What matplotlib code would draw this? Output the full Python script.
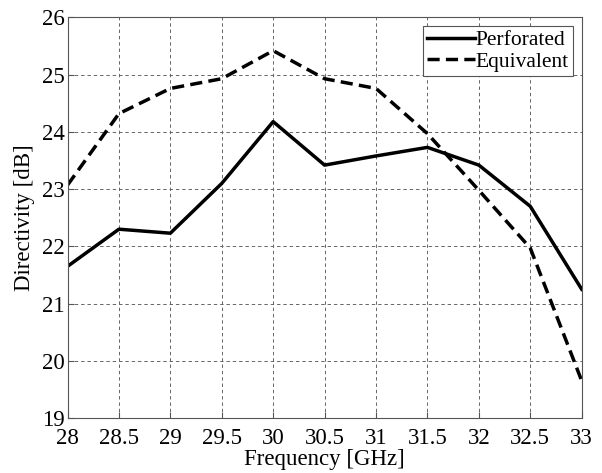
import numpy as np
import matplotlib.pyplot as plt

plt.rcParams['font.family'] = 'Liberation Serif'

freq = [28, 28.5, 29, 29.5, 30, 30.5, 31, 31.5, 32, 32.5, 33]
perforated = [21.65, 22.30, 22.23, 23.10, 24.18, 23.42, 23.58, 23.73, 23.42, 22.70, 21.25]
equivalent = [23.07, 24.32, 24.76, 24.93, 25.42, 24.93, 24.76, 23.97, 22.98, 21.97, 19.65]

fig = plt.figure(figsize=(6.02, 4.73), dpi=100)
ax = fig.add_axes([67.5/602, 1 - 418/473, (581.7-67.5)/602, (418-17.5)/473])

ax.plot(freq, perforated, 'k-', lw=2.5, label='Perforated')
ax.plot(freq, equivalent, 'k--', lw=2.5, dashes=(3.5, 1.8), label='Equivalent')

ax.set_xlim(28, 33)
ax.set_ylim(19, 26)
ax.set_xticks(np.arange(28, 33.01, 0.5))
ax.set_xticklabels(['28', '28.5', '29', '29.5', '30', '30.5', '31', '31.5', '32', '32.5', '33'])
ax.set_yticks(range(19, 27))
ax.tick_params(direction='in', labelsize=16.5, length=4, color='#555555')
ax.tick_params(axis='x', pad=7)
ax.tick_params(axis='y', pad=2)
ax.grid(True, ls=(0, (3.5, 3)), color='#666666', lw=0.7)
for s in ax.spines.values():
    s.set_color('#555555')

ax.set_xlabel('Frequency [GHz]', fontsize=16.5, labelpad=0)
ax.set_ylabel('Directivity [dB]', fontsize=16.5, labelpad=5)

leg = ax.legend(loc='upper right', fontsize=15.5, fancybox=False, framealpha=1,
                edgecolor='#555555', handlelength=2.2, handletextpad=0.05,
                borderaxespad=0.4, borderpad=0.2, labelspacing=0.05)
leg.get_frame().set_linewidth(0.8)

fig.savefig('out.png', dpi=100)
